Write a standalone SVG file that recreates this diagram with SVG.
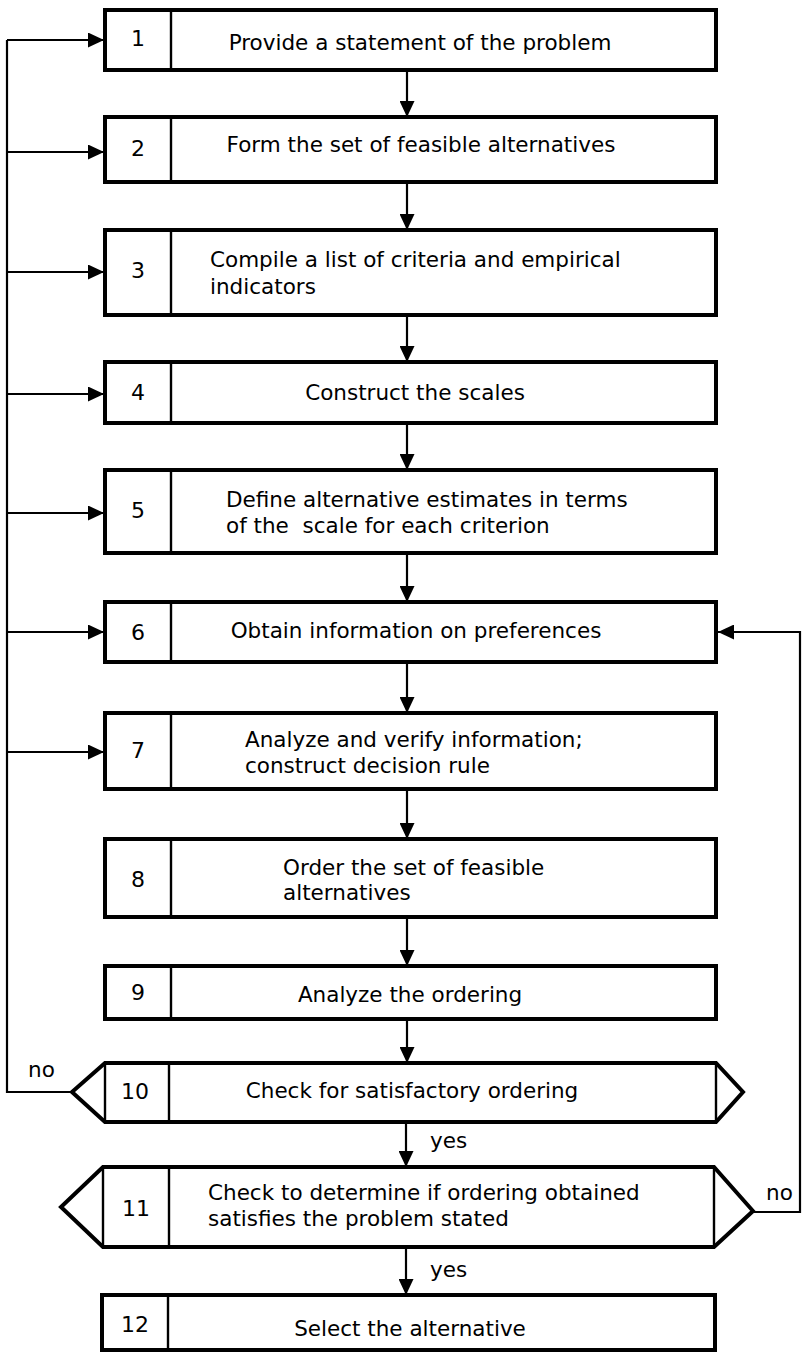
<svg xmlns="http://www.w3.org/2000/svg" width="803" height="1353" viewBox="0 0 803 1353">
<style>
.box{fill:#fff;stroke:#000;stroke-width:4;stroke-linejoin:miter}
.div{stroke:#000;stroke-width:2.4}
.t{font-family:"DejaVu Sans",sans-serif;font-size:21.5px;fill:#000}
.n{font-family:"DejaVu Sans",sans-serif;font-size:22px;fill:#000;text-anchor:middle}
.c{text-anchor:middle}
.ln{fill:none;stroke:#000;stroke-width:2.2}
</style>
<defs>
<marker id="ah" viewBox="0 0 16 15" markerUnits="userSpaceOnUse" markerWidth="16" markerHeight="15" refX="16" refY="7.5" orient="auto">
<path d="M0,0 L16,7.5 L0,15 z" fill="#000"/>
</marker>
</defs>
<rect width="803" height="1353" fill="#fff"/>

<g id="connectors">
<line class="ln" x1="407" y1="70" x2="407" y2="117" marker-end="url(#ah)"/>
<line class="ln" x1="407" y1="182" x2="407" y2="230" marker-end="url(#ah)"/>
<line class="ln" x1="407" y1="315" x2="407" y2="362" marker-end="url(#ah)"/>
<line class="ln" x1="407" y1="423" x2="407" y2="470" marker-end="url(#ah)"/>
<line class="ln" x1="407" y1="553" x2="407" y2="602" marker-end="url(#ah)"/>
<line class="ln" x1="407" y1="662" x2="407" y2="713" marker-end="url(#ah)"/>
<line class="ln" x1="407" y1="789" x2="407" y2="839" marker-end="url(#ah)"/>
<line class="ln" x1="407" y1="917" x2="407" y2="966" marker-end="url(#ah)"/>
<line class="ln" x1="407" y1="1019" x2="407" y2="1063" marker-end="url(#ah)"/>
<line class="ln" x1="406" y1="1122" x2="406" y2="1167" marker-end="url(#ah)"/>
<line class="ln" x1="406" y1="1247" x2="406" y2="1295" marker-end="url(#ah)"/>
<polyline class="ln" points="72,1092 7,1092 7,40"/>
<line class="ln" x1="7" y1="40" x2="104" y2="40" marker-end="url(#ah)"/>
<line class="ln" x1="7" y1="152" x2="104" y2="152" marker-end="url(#ah)"/>
<line class="ln" x1="7" y1="272" x2="104" y2="272" marker-end="url(#ah)"/>
<line class="ln" x1="7" y1="394" x2="104" y2="394" marker-end="url(#ah)"/>
<line class="ln" x1="7" y1="513" x2="104" y2="513" marker-end="url(#ah)"/>
<line class="ln" x1="7" y1="632" x2="104" y2="632" marker-end="url(#ah)"/>
<line class="ln" x1="7" y1="752" x2="104" y2="752" marker-end="url(#ah)"/>
<polyline class="ln" points="753,1212 800,1212 800,632 718,632" marker-end="url(#ah)"/>
<text class="t" x="28" y="1077">no</text>
<text class="t" x="766" y="1200">no</text>
<text class="t" x="430" y="1148">yes</text>
<text class="t" x="430" y="1277">yes</text>
</g>

<g id="n1">
<rect class="box" x="105" y="10" width="611" height="60"/>
<line class="div" x1="171" y1="10" x2="171" y2="70"/>
<text class="n" x="138" y="46">1</text>
<text class="t c" x="420" y="50">Provide a statement of the problem</text>
</g>
<g id="n2">
<rect class="box" x="105" y="117" width="611" height="65"/>
<line class="div" x1="171" y1="117" x2="171" y2="182"/>
<text class="n" x="138" y="156">2</text>
<text class="t c" x="421" y="152">Form the set of feasible alternatives</text>
</g>
<g id="n3">
<rect class="box" x="105" y="230" width="611" height="85"/>
<line class="div" x1="171" y1="230" x2="171" y2="315"/>
<text class="n" x="138" y="278">3</text>
<text class="t" x="210" y="267">Compile a list of criteria and empirical</text>
<text class="t" x="210" y="294">indicators</text>
</g>
<g id="n4">
<rect class="box" x="105" y="362" width="611" height="61"/>
<line class="div" x1="171" y1="362" x2="171" y2="423"/>
<text class="n" x="138" y="400">4</text>
<text class="t c" x="415" y="400">Construct the scales</text>
</g>
<g id="n5">
<rect class="box" x="105" y="470" width="611" height="83"/>
<line class="div" x1="171" y1="470" x2="171" y2="553"/>
<text class="n" x="138" y="518">5</text>
<text class="t" x="226" y="507">Define alternative estimates in terms</text>
<text class="t" x="226" y="533" style="white-space:pre">of the  scale for each criterion</text>
</g>
<g id="n6">
<rect class="box" x="105" y="602" width="611" height="60"/>
<line class="div" x1="171" y1="602" x2="171" y2="662"/>
<text class="n" x="138" y="640">6</text>
<text class="t c" x="416" y="638">Obtain information on preferences</text>
</g>
<g id="n7">
<rect class="box" x="105" y="713" width="611" height="76"/>
<line class="div" x1="171" y1="713" x2="171" y2="789"/>
<text class="n" x="138" y="758">7</text>
<text class="t" x="245" y="747">Analyze and verify information;</text>
<text class="t" x="245" y="773">construct decision rule</text>
</g>
<g id="n8">
<rect class="box" x="105" y="839" width="611" height="78"/>
<line class="div" x1="171" y1="839" x2="171" y2="917"/>
<text class="n" x="138" y="887">8</text>
<text class="t" x="283" y="875">Order the set of feasible</text>
<text class="t" x="283" y="900">alternatives</text>
</g>
<g id="n9">
<rect class="box" x="105" y="966" width="611" height="53"/>
<line class="div" x1="171" y1="966" x2="171" y2="1019"/>
<text class="n" x="138" y="1000">9</text>
<text class="t c" x="410" y="1002">Analyze the ordering</text>
</g>
<g id="n10">
<polygon class="box" points="105,1063 716,1063 743,1092 716,1122 105,1122 72,1092"/>
<line class="div" x1="105" y1="1063" x2="105" y2="1122"/>
<line class="div" x1="716" y1="1063" x2="716" y2="1122"/>
<line class="div" x1="169" y1="1063" x2="169" y2="1122"/>
<text class="n" x="135" y="1099">10</text>
<text class="t c" x="412" y="1098">Check for satisfactory ordering</text>
</g>
<g id="n11">
<polygon class="box" points="103,1167 714,1167 753,1211 714,1247 103,1247 61,1207"/>
<line class="div" x1="103" y1="1167" x2="103" y2="1247"/>
<line class="div" x1="714" y1="1167" x2="714" y2="1247"/>
<line class="div" x1="169" y1="1167" x2="169" y2="1247"/>
<text class="n" x="136" y="1216">11</text>
<text class="t" x="208" y="1200">Check to determine if ordering obtained</text>
<text class="t" x="208" y="1226">satisfies the problem stated</text>
</g>
<g id="n12">
<rect class="box" x="102" y="1295" width="613" height="55"/>
<line class="div" x1="168" y1="1295" x2="168" y2="1350"/>
<text class="n" x="135" y="1332">12</text>
<text class="t c" x="410" y="1336">Select the alternative</text>
</g>
</svg>
